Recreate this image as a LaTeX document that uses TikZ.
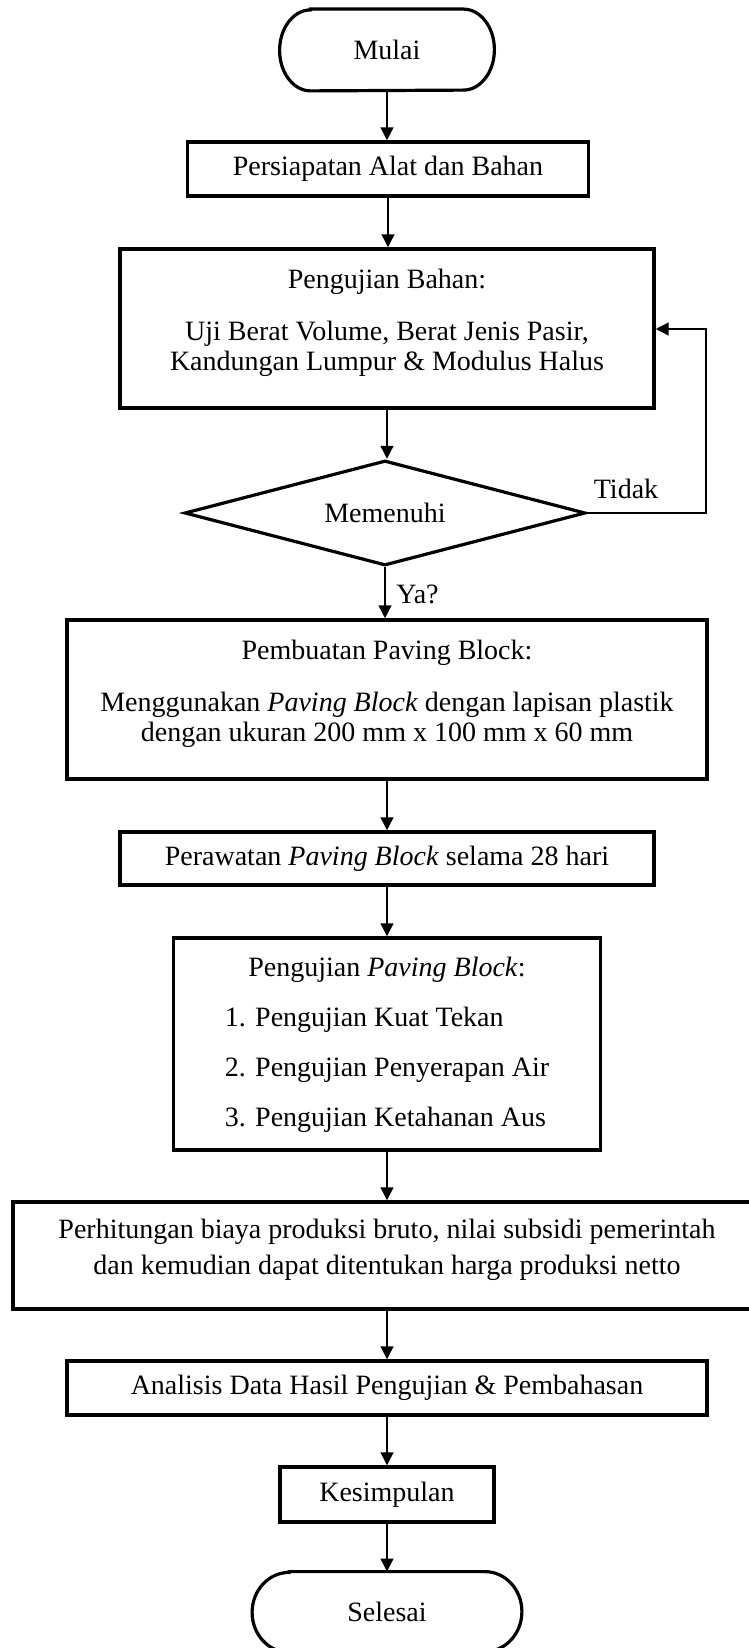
\documentclass[tikz,border=0pt]{standalone}
\usepackage{fontspec}
\setmainfont{Liberation Serif}
\usetikzlibrary{shapes.geometric,arrows.meta}
\begin{document}
\begin{tikzpicture}[x=0.5pt,y=-0.5pt,
  font=\fontsize{14pt}{15pt}\selectfont,
  boxline/.style={line width=1.6pt},
  box/.style={draw,line width=1.6pt,inner sep=0pt},
  conn/.style={line width=1.35pt,-{Triangle[length=6.5pt,width=6.2pt]}},
  txt/.style={align=center,inner sep=0pt}]
\useasboundingbox (0,0) rectangle (749,1648);

% start terminal
\node[inner sep=0pt,minimum width=107pt,minimum height=40.5pt] (start) at (387,50) {Mulai};
\draw[boxline] ([xshift=15.5pt]start.north west) -- ([xshift=-15.5pt]start.north east)
  arc[start angle=90,end angle=-90,x radius=15.5pt,y radius=20.25pt]
  -- ([xshift=15.5pt]start.south west)
  arc[start angle=270,end angle=90,x radius=15.5pt,y radius=20.25pt] -- cycle;

\node[box,minimum width=200.5pt,minimum height=27pt] (prep) at (388,169) {Persiapatan Alat dan Bahan};

\node[box,minimum width=267pt,minimum height=79.5pt] (bahan) at (387,328.5) {};
\node[txt] (bahantxt) at (387,323) {Pengujian Bahan:\\[11pt] Uji Berat Volume, Berat Jenis Pasir,\\ Kandungan Lumpur \& Modulus Halus};

\node[draw,diamond,line width=1.6pt,inner sep=0pt,shape aspect=3.82,minimum width=200.5pt,minimum height=52.5pt] (dec) at (385,513) {Memenuhi};
\node[inner sep=0pt] (tidak) at (626,489) {Tidak};

\node[box,minimum width=320pt,minimum height=79.5pt] (buat) at (387,699.5) {};
\node[txt] (buattxt) at (387,693.5) {Pembuatan Paving Block:\\[11pt] Menggunakan \textit{Paving Block} dengan lapisan plastik\\ dengan ukuran 200 mm x 100 mm x 60 mm};

\node[box,minimum width=267pt,minimum height=26.5pt] (rawat) at (387,858.5) {Perawatan \textit{Paving Block} selama 28 hari};

\node[box,minimum width=213.5pt,minimum height=106pt] (uji) at (387,1044) {};
\node[txt] (ujititle) at (387,970) {Pengujian \textit{Paving Block}:};
\node[txt,align=left] (ujilist) at (387,1070) {1. Pengujian Kuat Tekan\\[10pt] 2. Pengujian Penyerapan Air\\[10pt] 3. Pengujian Ketahanan Aus};

\node[box,minimum width=374pt,minimum height=53.5pt] (hitung) at (387,1255.5) {};
\node[txt] (hitungtxt) at (387,1250) {Perhitungan biaya produksi bruto, nilai subsidi pemerintah\\[3pt] dan kemudian dapat ditentukan harga produksi netto};

\node[box,minimum width=320pt,minimum height=27pt] (anal) at (387,1388) {Analisis Data Hasil Pengujian \& Pembahasan};
\node[box,minimum width=107pt,minimum height=27.5pt] (kes) at (387,1494.5) {Kesimpulan};

% end terminal
\node[inner sep=0pt,minimum width=134.5pt,minimum height=40pt] (end) at (387,1612) {Selesai};
\draw[boxline] ([xshift=18.5pt]end.north west) -- ([xshift=-18.5pt]end.north east)
  arc[start angle=90,end angle=-90,x radius=18.5pt,y radius=20pt]
  -- ([xshift=18.5pt]end.south west)
  arc[start angle=270,end angle=90,x radius=18.5pt,y radius=20pt] -- cycle;

% connectors
\draw[conn] (start.south) -- (start.south |- prep.north);
\draw[conn] (prep.south) -- (prep.south |- bahan.north);
\draw[conn] (bahan.south) -- (bahan.south |- dec.north);
\draw[conn] (dec.south) -- (dec.south |- buat.north) node[midway,anchor=west,xshift=5pt,yshift=-1pt,inner sep=0pt] (ya) {Ya?};
\coordinate (fb) at (706,329);
\draw[conn] (dec.east) -| (fb) -- (bahan.east |- fb);
\draw[conn] (buat.south) -- (rawat.north);
\draw[conn] (rawat.south) -- (uji.north);
\draw[conn] (uji.south) -- (hitung.north);
\draw[conn] (hitung.south) -- (anal.north);
\draw[conn] (anal.south) -- (kes.north);
\draw[conn] (kes.south) -- (end.north);
\end{tikzpicture}
\end{document}
